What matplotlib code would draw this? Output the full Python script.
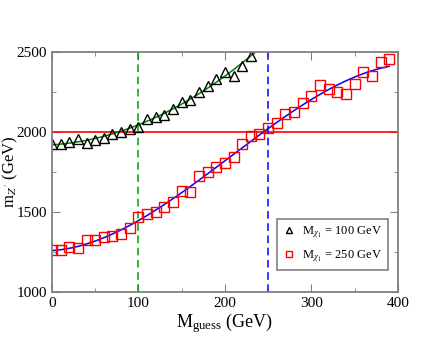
import numpy as np
import matplotlib
matplotlib.use("Agg")
import matplotlib.pyplot as plt

plt.rcParams['font.family'] = ['Liberation Serif', 'DejaVu Serif']
plt.rcParams['mathtext.fontset'] = 'stix'

# M_chi1 = 100 GeV scan
m_guess_100 = np.arange(0, 240, 10)
mz_100 = [1923, 1927, 1940, 1956, 1933, 1948, 1960, 1986, 2002, 2019, 2031,
          2079, 2092, 2106, 2146, 2186, 2202, 2250, 2290, 2329, 2373, 2350,
          2415, 2477]

# M_chi1 = 250 GeV scan
m_guess_250 = np.arange(0, 400, 10)
mz_250 = [1260, 1262, 1281, 1273, 1325, 1325, 1344, 1352, 1365, 1398,
          1471, 1490, 1500, 1529, 1560, 1631, 1627, 1725, 1752, 1781,
          1806, 1844, 1925, 1975, 1985, 2023, 2054, 2110, 2127, 2183,
          2223, 2294, 2269, 2248, 2236, 2298, 2373, 2348, 2437, 2456]

mz_target = 2000
true_masses = [100, 250]

# fit curves through the points
c100 = np.polyfit(m_guess_100, mz_100, 2)
x100 = np.linspace(0, 240, 200)
c250 = np.polyfit(m_guess_250, mz_250, 3)
x250 = np.linspace(0, 390, 200)

fig = plt.figure(figsize=(4.48, 3.46), dpi=100)
ax = fig.add_axes([0.116, 0.156, 0.772, 0.694])

ax.axhline(mz_target, color='red', lw=1.2)
ax.axvline(true_masses[0], color='#00a000', lw=1.1, ls=(0, (5, 3)))
ax.axvline(true_masses[1], color='blue', lw=1.1, ls=(0, (5, 3)))

ax.plot(x100, np.polyval(c100, x100), color='green', lw=1.1)
ax.plot(x250, np.polyval(c250, x250), color='blue', lw=1.1)

ax.plot(m_guess_100, mz_100, ls='none', marker='^', ms=7, mfc='none',
        mec='black', mew=1.0, label=r'M$_{\chi_1}$ = 100 GeV')
ax.plot(m_guess_250, mz_250, ls='none', marker='s', ms=6.5, mfc='none',
        mec='red', mew=1.0, label=r'M$_{\chi_1}$ = 250 GeV')

ax.set_xlim(0, 400)
ax.set_ylim(1000, 2500)
ax.set_xticks([0, 100, 200, 300, 400])
ax.set_xticks([50, 150, 250, 350], minor=True)
ax.set_yticks([1000, 1500, 2000, 2500])
ax.set_yticks([1250, 1750, 2250], minor=True)
ax.tick_params(which='both', direction='in', top=True, right=True,
               labelsize=11, color='#808080')
ax.tick_params(which='major', length=6)
ax.tick_params(which='minor', length=3)
for s in ax.spines.values():
    s.set_color('#808080')
    s.set_linewidth(1.3)

ax.set_xlabel(r'M$_{\mathregular{guess}}$ (GeV)', fontsize=13, labelpad=1)
ax.set_ylabel(r"m$_{Z'}$ (GeV)", fontsize=12)
ax.yaxis.set_label_coords(-0.093, 0.5)

leg = ax.legend(loc='lower left', bbox_to_anchor=(0.65, 0.092), fontsize=9,
                handlelength=1.0, handletextpad=0.5, borderpad=0.5,
                borderaxespad=0, labelspacing=0.6,
                fancybox=False, framealpha=1, edgecolor='#808080',
                markerscale=0.7)
leg.get_frame().set_linewidth(1.2)

fig.savefig('out.png', dpi=100)
